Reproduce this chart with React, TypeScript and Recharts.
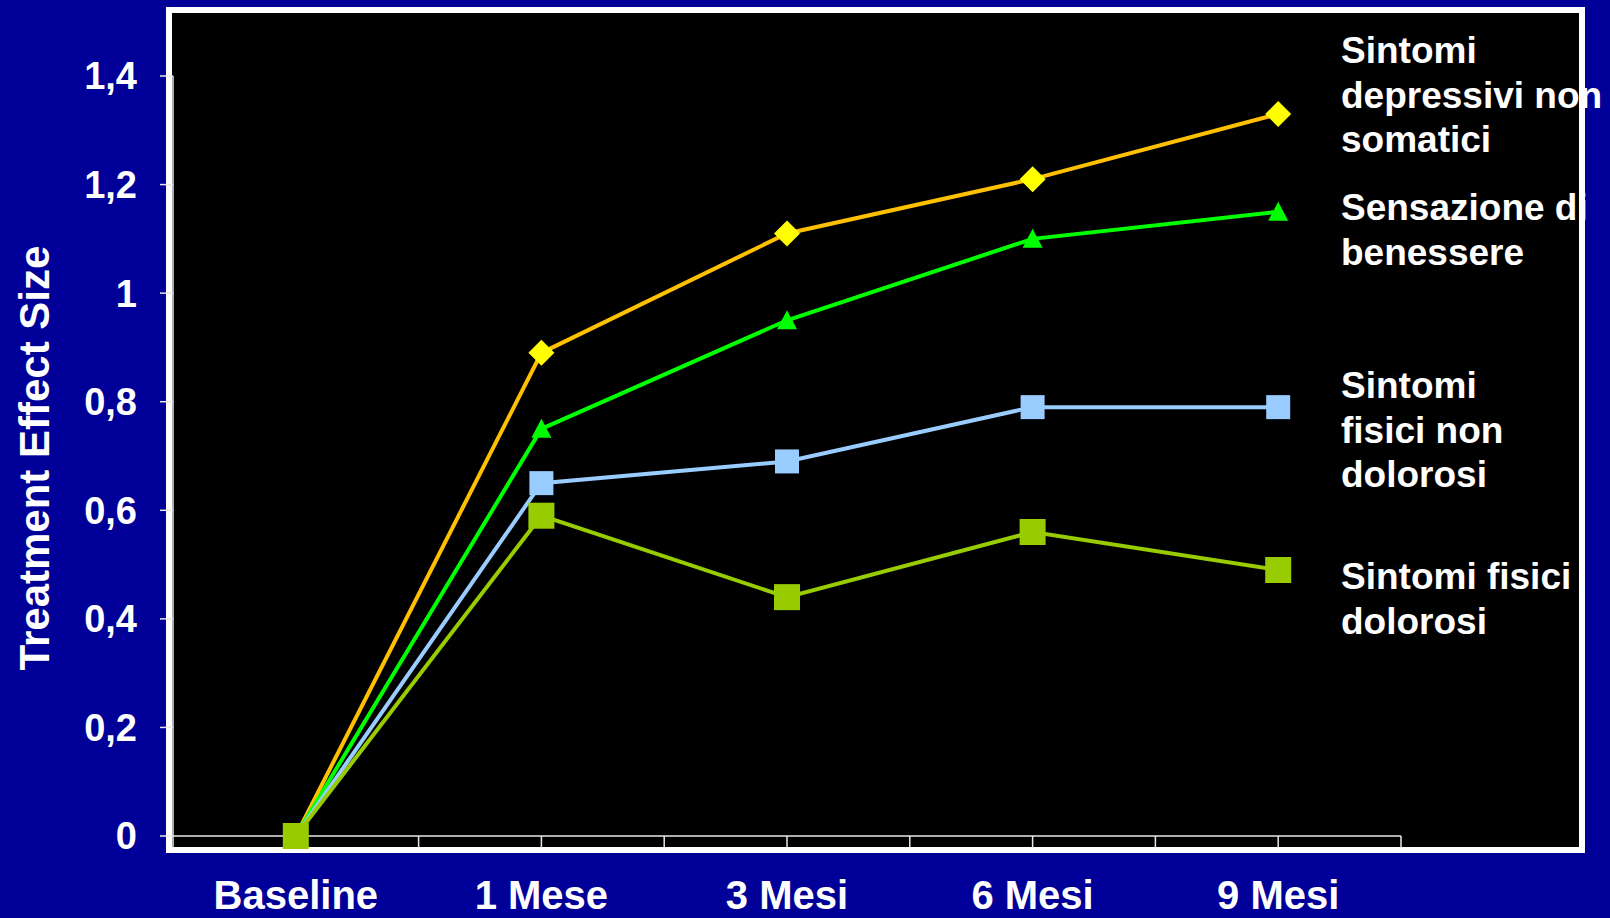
import { LineChart, Line, XAxis, YAxis } from 'recharts'

const categories = ['Baseline', '1 Mese', '3 Mesi', '6 Mesi', '9 Mesi']
const depressivi = [0, 0.89, 1.11, 1.21, 1.33]
const benessere = [0, 0.75, 0.95, 1.1, 1.15]
const fisiciNonDolorosi = [0, 0.65, 0.69, 0.79, 0.79]
const fisiciDolorosi = [0, 0.59, 0.44, 0.56, 0.49]

const yTicks = [0, 0.2, 0.4, 0.6, 0.8, 1, 1.2, 1.4]
const xTicks = [-0.5, 0, 0.5, 1, 1.5, 2, 2.5, 3, 3.5, 4, 4.5]

const labelDepressivi = ['Sintomi', 'depressivi non', 'somatici']
const labelBenessere = ['Sensazione di', 'benessere']
const labelNonDolorosi = ['Sintomi', 'fisici non', 'dolorosi']
const labelDolorosi = ['Sintomi fisici', 'dolorosi']

const data = categories.map((name, i) => ({
  x: i,
  name,
  depressivi: depressivi[i],
  benessere: benessere[i],
  nonDolorosi: fisiciNonDolorosi[i],
  dolorosi: fisiciDolorosi[i],
}))

const FONT = '"Liberation Sans", Arial, sans-serif'

const Diamond = (p: any) => (
  <polygon
    key={`d-${p.index}`}
    points={`${p.cx},${p.cy - 13} ${p.cx + 13},${p.cy} ${p.cx},${p.cy + 13} ${p.cx - 13},${p.cy}`}
    fill="#FFFF00"
  />
)

const Triangle = (p: any) => (
  <polygon
    key={`t-${p.index}`}
    points={`${p.cx},${p.cy - 10} ${p.cx + 10},${p.cy + 9} ${p.cx - 10},${p.cy + 9}`}
    fill="#00FF00"
  />
)

const square = (size: number, color: string, tag: string) => (p: any) => (
  <rect
    key={`${tag}-${p.index}`}
    x={p.cx - size / 2}
    y={p.cy - size / 2}
    width={size}
    height={size}
    fill={color}
  />
)

function SideLabel({ lines, top }: { lines: string[]; top: number }) {
  return (
    <text x={1341} y={top} fill="#fff" fontSize={37} fontWeight="bold" fontFamily={FONT}>
      {lines.map((l, i) => (
        <tspan key={i} x={1341} dy={i === 0 ? 0 : 44.5}>
          {l}
        </tspan>
      ))}
    </text>
  )
}

export default function App() {
  return (
    <div style={{ position: 'absolute', left: 0, top: 0, width: 1610, height: 918, background: '#000099', overflow: 'hidden' }}>
      <div
        style={{
          position: 'absolute',
          left: 166,
          top: 7,
          width: 1419,
          height: 846,
          border: '6px solid #fff',
          boxSizing: 'border-box',
          background: '#000',
        }}
      />
      <div style={{ position: 'absolute', left: 0, top: 0 }}>
        <LineChart width={1610} height={918} data={data} margin={{ top: 76, right: 209, bottom: 0, left: 0 }}>
          <XAxis
            type="number"
            dataKey="x"
            domain={[-0.5, 4.5]}
            ticks={xTicks}
            interval={0}
            height={82}
            tickSize={12}
            tickMargin={33}
            stroke="#e8e8e8"
            strokeWidth={1.5}
            tickFormatter={(v: number) => (Number.isInteger(v) ? categories[v] : '')}
            tick={{ fill: '#fff', fontSize: 40, fontWeight: 'bold', fontFamily: FONT }}
          />
          <YAxis
            type="number"
            domain={[0, 1.4]}
            ticks={yTicks}
            interval={0}
            width={173}
            tickSize={13}
            tickMargin={23}
            stroke="#e8e8e8"
            strokeWidth={1.5}
            tickFormatter={(v: number) => String(v).replace('.', ',')}
            tick={{ fill: '#fff', fontSize: 38, fontWeight: 'bold', fontFamily: FONT }}
          />
          <Line dataKey="depressivi" stroke="#FFC000" strokeWidth={4} dot={Diamond} activeDot={false} isAnimationActive={false} />
          <Line dataKey="benessere" stroke="#00FF00" strokeWidth={4} dot={Triangle} activeDot={false} isAnimationActive={false} />
          <Line dataKey="nonDolorosi" stroke="#99CCFF" strokeWidth={4} dot={square(24, '#99CCFF', 'b')} activeDot={false} isAnimationActive={false} />
          <Line dataKey="dolorosi" stroke="#99CC00" strokeWidth={4} dot={square(26, '#99CC00', 'g')} activeDot={false} isAnimationActive={false} />
        </LineChart>
      </div>
      <svg width={1610} height={918} style={{ position: 'absolute', left: 0, top: 0, pointerEvents: 'none' }}>
        <text
          x={49}
          y={458}
          transform="rotate(-90 49 458)"
          textAnchor="middle"
          fill="#fff"
          fontSize={42}
          fontWeight="bold"
          fontFamily={FONT}
        >
          Treatment Effect Size
        </text>
        <SideLabel lines={labelDepressivi} top={63} />
        <SideLabel lines={labelBenessere} top={220} />
        <SideLabel lines={labelNonDolorosi} top={398} />
        <SideLabel lines={labelDolorosi} top={589} />
      </svg>
    </div>
  )
}
